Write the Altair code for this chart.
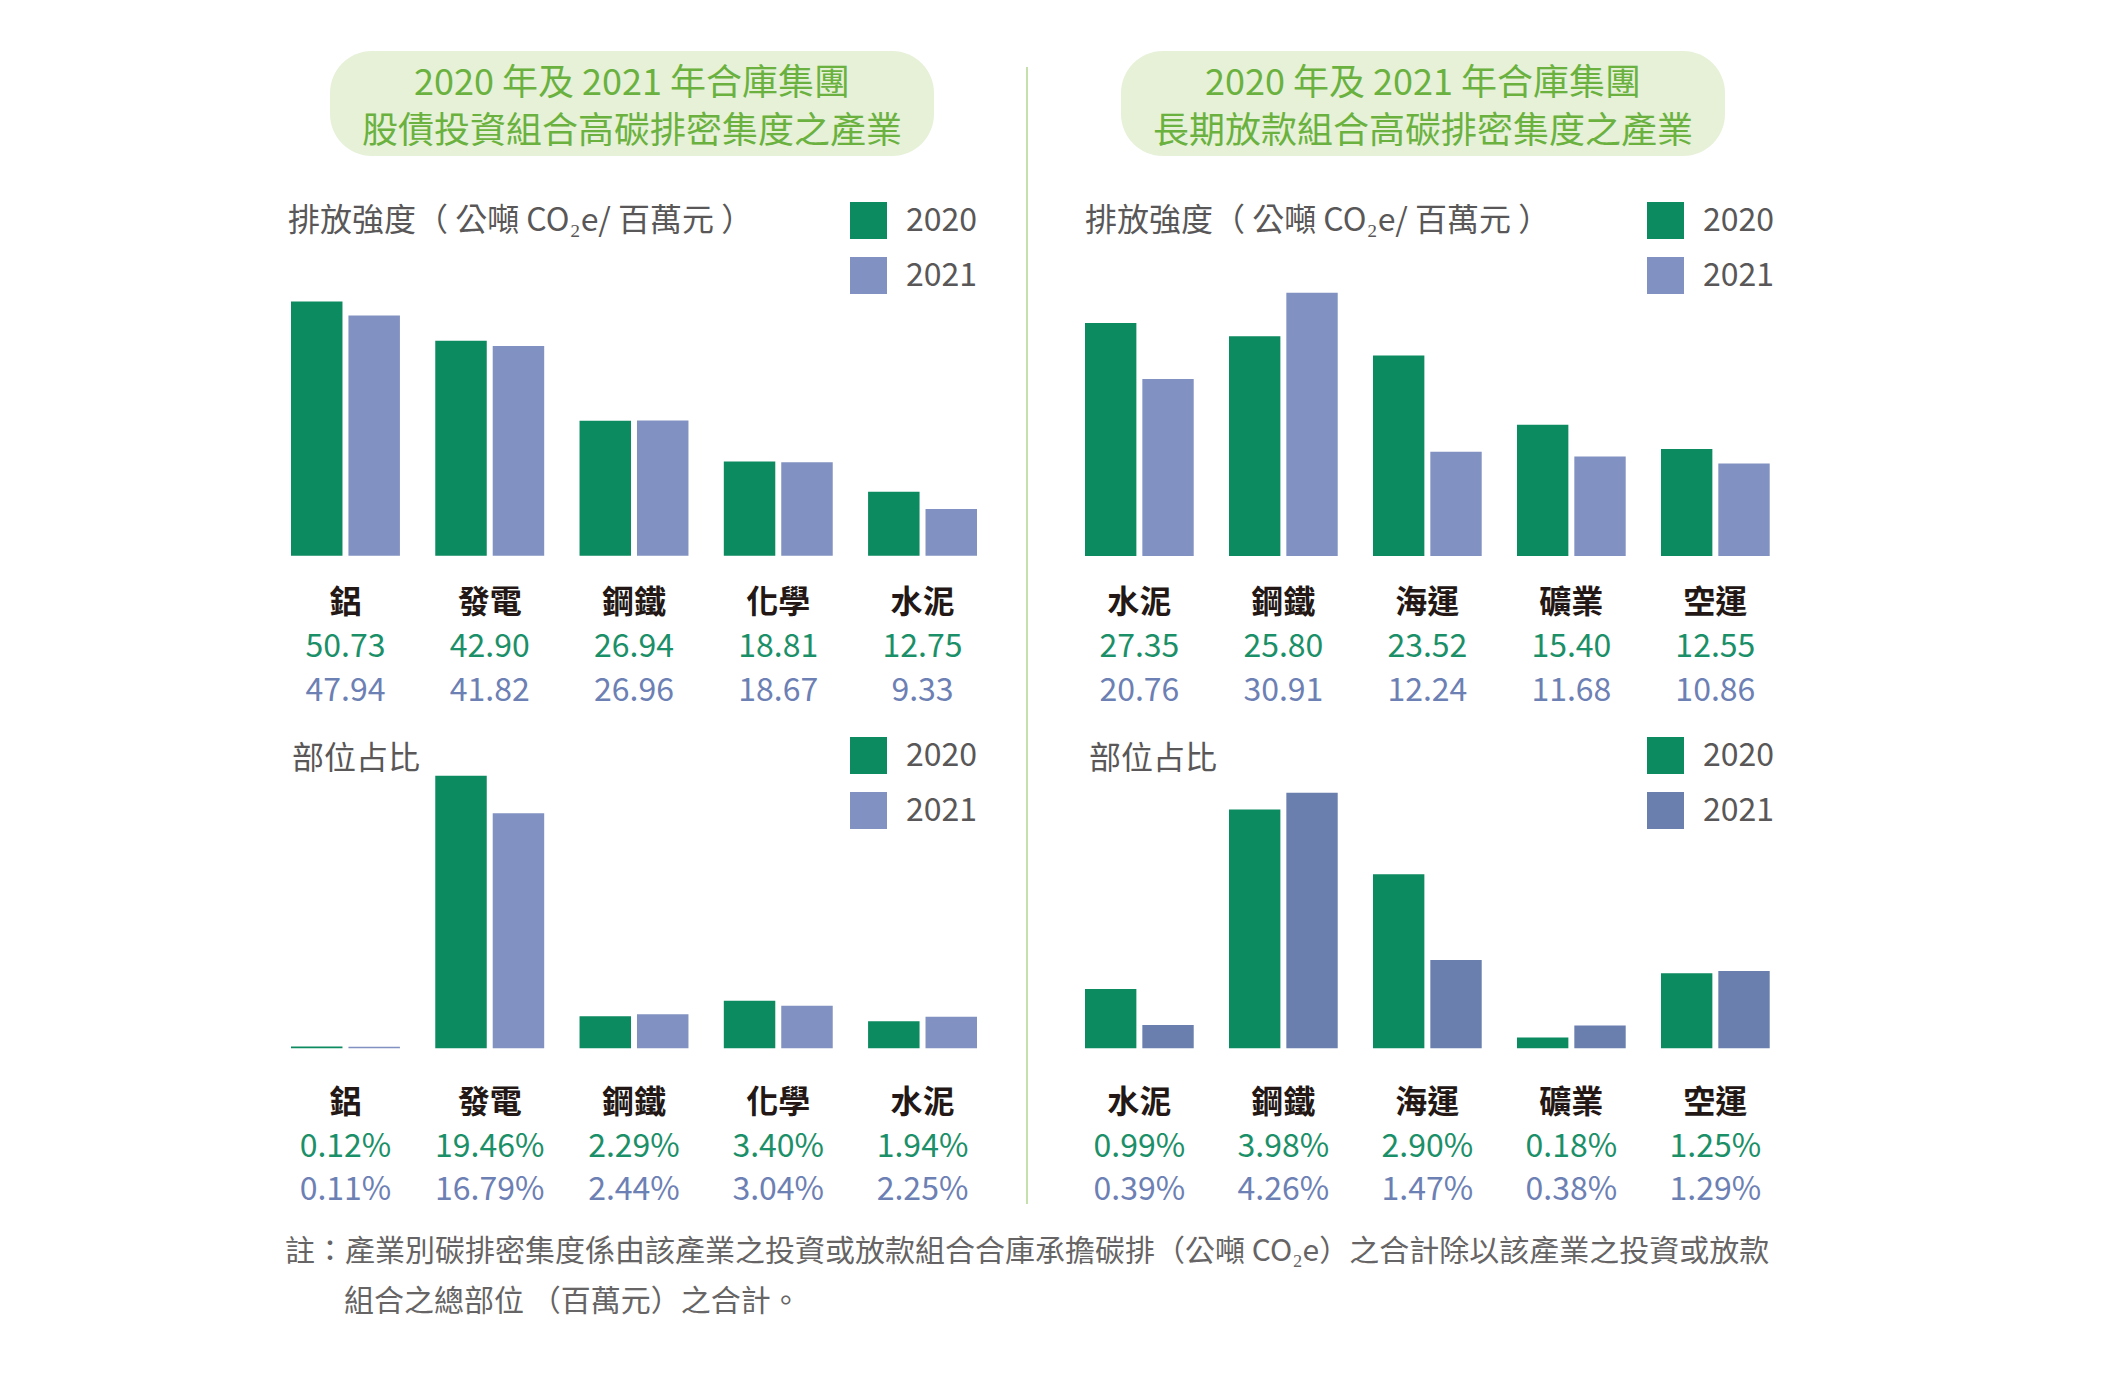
import altair as alt
import pandas as pd

FONT = "Noto Sans CJK TC"

# ---- data ----
left_cats = ["鋁", "發電", "鋼鐵", "化學", "水泥"]
left_int_2020 = [50.73, 42.90, 26.94, 18.81, 12.75]
left_int_2021 = [47.94, 41.82, 26.96, 18.67, 9.33]
left_share_2020 = [0.12, 19.46, 2.29, 3.40, 1.94]
left_share_2021 = [0.11, 16.79, 2.44, 3.04, 2.25]

right_cats = ["水泥", "鋼鐵", "海運", "礦業", "空運"]
right_int_2020 = [27.35, 25.80, 23.52, 15.40, 12.55]
right_int_2021 = [20.76, 30.91, 12.24, 11.68, 10.86]
right_share_2020 = [0.99, 3.98, 2.90, 0.18, 1.25]
right_share_2021 = [0.39, 4.26, 1.47, 0.38, 1.29]

years = ["2020", "2021"]
title_left = ["2020 年及 2021 年合庫集團", "股債投資組合高碳排密集度之產業"]
title_right = ["2020 年及 2021 年合庫集團", "長期放款組合高碳排密集度之產業"]
head_int = "排放強度（ 公噸 CO₂e/ 百萬元 ）"
head_share = "部位占比"
note_lines = [
    "註：產業別碳排密集度係由該產業之投資或放款組合合庫承擔碳排（公噸 CO₂e）之合計除以該產業之投資或放款",
    "組合之總部位 （百萬元）之合計。",
]

GREEN = "#0c8a60"
BLUE_PAT = "#8191c1"
BLUE_SOLID = "#6a7fad"
TXT_GREEN = "#1b9068"
TXT_BLUE = "#6d80b4"
GRAY = "#595757"


def panel(cats, v20, v21, share, xr, yd, yr, c21, label_ys, head, head_xy, leg_xy):
    rows = []
    for c, a, b in zip(cats, v20, v21):
        rows.append({"cat": c, "year": "2020", "value": a})
        rows.append({"cat": c, "year": "2021", "value": b})
    df = pd.DataFrame(rows)
    df["label"] = df["value"].map(lambda v: f"{v:.2f}%" if share else f"{v:.2f}")
    xs = alt.Scale(domain=cats, range=xr, paddingInner=0.245, paddingOuter=0)
    X = alt.X("cat:N", scale=xs, axis=None, sort=cats)
    bars = alt.Chart(df).mark_bar().encode(
        x=X,
        xOffset=alt.XOffset("year:N", scale=alt.Scale(domain=years, paddingInner=0.104, paddingOuter=0)),
        y=alt.Y("value:Q", scale=alt.Scale(domain=yd, range=yr), axis=None),
        color=alt.Color(
            "year:N",
            scale=alt.Scale(domain=years, range=[GREEN, c21]),
            legend=alt.Legend(
                orient="none", legendX=leg_xy[0], legendY=leg_xy[1], title=None,
                direction="vertical", symbolType="square", symbolSize=1369,
                symbolStrokeWidth=0, symbolOpacity=1, labelFontSize=32, labelFont=FONT,
                labelColor=GRAY, rowPadding=18, labelOffset=19, padding=0,
            ),
        ),
    )
    d20 = df[df.year == "2020"]
    d21 = df[df.year == "2021"]
    cat_t = alt.Chart(d20).mark_text(font=FONT, fontSize=32, fontWeight="bold", color="#231815",
                                      baseline="middle").encode(x=X, y=alt.value(label_ys[0]), text="cat:N")
    v20_t = alt.Chart(d20).mark_text(font=FONT, fontSize=32, color=TXT_GREEN,
                                     baseline="middle").encode(x=X, y=alt.value(label_ys[1]), text="label:N")
    v21_t = alt.Chart(d21).mark_text(font=FONT, fontSize=32, color=TXT_BLUE,
                                     baseline="middle").encode(x=X, y=alt.value(label_ys[2]), text="label:N")
    head_t = alt.Chart(pd.DataFrame({"t": [head]})).mark_text(
        font=FONT, fontSize=32, color=GRAY, align="left", baseline="middle"
    ).encode(x=alt.value(head_xy[0]), y=alt.value(head_xy[1]), text="t:N")
    return alt.layer(bars, cat_t, v20_t, v21_t, head_t)


def pill(x0, x1, lines):
    cx = (x0 + x1) / 2
    box = alt.Chart(pd.DataFrame({"a": [0]})).mark_rect(color="#e6f1d8", cornerRadius=42).encode(
        x=alt.value(x0), x2=alt.value(x1), y=alt.value(43), y2=alt.value(148))
    t1 = alt.Chart(pd.DataFrame({"t": [lines[0]]})).mark_text(
        font=FONT, fontSize=36, color="#6ab13f", align="center", baseline="middle"
    ).encode(x=alt.value(cx), y=alt.value(76), text="t:N")
    t2 = alt.Chart(pd.DataFrame({"t": [lines[1]]})).mark_text(
        font=FONT, fontSize=36, color="#6ab13f", align="center", baseline="middle"
    ).encode(x=alt.value(cx), y=alt.value(124), text="t:N")
    return [box, t1, t2]


lt = panel(left_cats, left_int_2020, left_int_2021, False, [283, 969], [0, 50], [547.8, 297.1],
           BLUE_PAT, [595, 639, 683], head_int, (280, 213), (842, 194))
lb = panel(left_cats, left_share_2020, left_share_2021, True, [283, 969], [0, 20], [1040.3, 760.3],
           BLUE_PAT, [1095, 1139, 1182], head_share, (284, 751), (842, 729))
rt = panel(right_cats, right_int_2020, right_int_2021, False, [1077, 1761.7], [0, 30], [548, 292.4],
           BLUE_PAT, [595, 639, 683], head_int, (1077, 213), (1639, 194))
rb = panel(right_cats, right_share_2020, right_share_2021, True, [1077, 1761.7], [0, 5], [1040.3, 740.3],
           BLUE_SOLID, [1095, 1139, 1182], head_share, (1081, 751), (1639, 729))

divider = alt.Chart(pd.DataFrame({"a": [0]})).mark_rule(color="#c6e0ad", strokeWidth=2).encode(
    x=alt.value(1019), y=alt.value(59), y2=alt.value(1196))

note1 = alt.Chart(pd.DataFrame({"t": [note_lines[0]]})).mark_text(
    font=FONT, fontSize=30, color="#666464", align="left", baseline="middle"
).encode(x=alt.value(277), y=alt.value(1244), text="t:N")
note2 = alt.Chart(pd.DataFrame({"t": [note_lines[1]]})).mark_text(
    font=FONT, fontSize=30, color="#666464", align="left", baseline="middle"
).encode(x=alt.value(336), y=alt.value(1294), text="t:N")

layers = pill(322, 926, title_left) + pill(1113, 1717, title_right) + [divider, lt, lb, rt, rb, note1, note2]

chart = alt.layer(*layers).resolve_scale(
    x="independent", y="independent", color="independent", xOffset="independent"
).resolve_legend(color="independent").properties(
    width=2094, height=1360, autosize=alt.AutoSizeParams(type="none"), padding=0,
    background="white",
).configure_view(stroke=None)

chart.save("out.html", embed_options={"renderer": "svg", "actions": False})
